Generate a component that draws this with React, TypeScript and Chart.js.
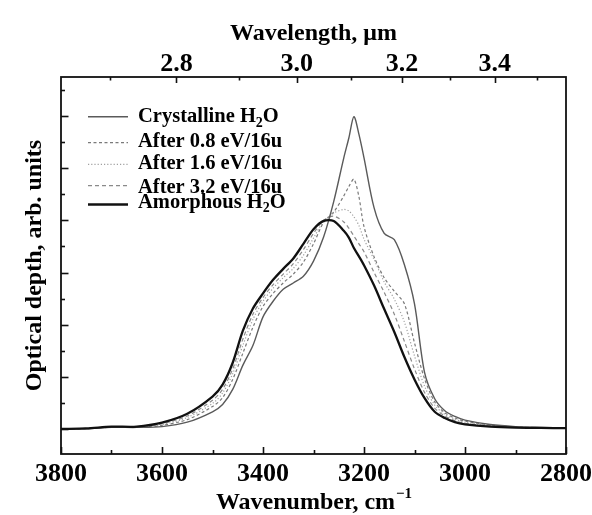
import React, { useEffect, useRef } from 'react';
import { Chart, registerables } from 'chart.js';

Chart.register(...registerables);

// ---- data (wavenumber in cm^-1, optical depth in arbitrary units) ----
const WAVENUMBERS = [
  3800, 3750, 3700, 3650, 3600, 3550, 3500, 3480, 3460, 3440, 3420, 3400,
  3380, 3360, 3340, 3320, 3300, 3280, 3260, 3240, 3230, 3220, 3210, 3200,
  3180, 3160, 3140, 3120, 3100, 3080, 3060, 3040, 3020, 3000, 2950, 2900,
  2850, 2800,
];

const CRYSTALLINE = [
  0, 0.005, 0.03, 0.03, 0.045, 0.13, 0.33, 0.47, 0.76, 1.22, 1.6, 2.15,
  2.45, 2.68, 2.8, 2.93, 3.22, 3.68, 4.36, 5.2, 5.58, 5.99, 5.65, 5.2,
  4.24, 3.75, 3.63, 3.15, 2.4, 1.08, 0.58, 0.35, 0.24, 0.17, 0.085, 0.045,
  0.03, 0.02,
];

const AFTER_08 = [
  0, 0.006, 0.032, 0.033, 0.07, 0.18, 0.43, 0.6, 0.95, 1.45, 1.95, 2.35,
  2.6, 2.8, 2.97, 3.2, 3.55, 3.96, 4.16, 4.47, 4.65, 4.79, 4.45, 3.88,
  3.3, 2.9, 2.64, 2.4, 1.65, 0.96, 0.52, 0.31, 0.21, 0.15, 0.075, 0.04,
  0.025, 0.018,
];

const AFTER_16 = [
  0, 0.008, 0.035, 0.036, 0.085, 0.22, 0.49, 0.69, 1.06, 1.6, 2.1, 2.45,
  2.7, 2.9, 3.08, 3.33, 3.66, 3.98, 4.14, 4.21, 4.18, 4.07, 3.9, 3.64,
  3.25, 2.82, 2.49, 2.05, 1.4, 0.82, 0.46, 0.28, 0.19, 0.13, 0.065, 0.035,
  0.025, 0.018,
];

const AFTER_32 = [
  0, 0.01, 0.04, 0.04, 0.1, 0.25, 0.55, 0.76, 1.15, 1.72, 2.2, 2.52,
  2.77, 2.97, 3.17, 3.44, 3.75, 4.0, 4.08, 3.97, 3.85, 3.7, 3.55, 3.4,
  3.0, 2.62, 2.2, 1.68, 1.15, 0.7, 0.4, 0.25, 0.16, 0.11, 0.055, 0.03,
  0.02, 0.015,
];

const AMORPHOUS = [
  0, 0.01, 0.045, 0.045, 0.12, 0.29, 0.62, 0.85, 1.27, 1.88, 2.31, 2.6,
  2.86, 3.07, 3.27, 3.55, 3.83, 3.99, 3.99, 3.8, 3.67, 3.47, 3.31, 3.14,
  2.75, 2.3, 1.86, 1.38, 0.95, 0.59, 0.33, 0.21, 0.13, 0.09, 0.045, 0.025,
  0.02, 0.015,
];

const LEGEND_LABELS = [
  'Crystalline H_2O',
  'After 0.8 eV/16u',
  'After 1.6 eV/16u',
  'After 3.2 eV/16u',
  'Amorphous H_2O',
];

// tick values
const BOTTOM_TICKS = [3800, 3700, 3600, 3500, 3400, 3300, 3200, 3100, 3000, 2900, 2800];
const BOTTOM_LABELED = [3800, 3600, 3400, 3200, 3000, 2800];
const TOP_WAVELENGTHS = [2.7, 2.8, 2.9, 3.0, 3.1, 3.2, 3.3, 3.4, 3.5];
const TOP_LABELS = ['', '2.8', '', '3.0', '', '3.2', '', '3.4', ''];
const Y_TICKS = [0, 0.5, 1, 1.5, 2, 2.5, 3, 3.5, 4, 4.5, 5, 5.5, 6, 6.5];

const FONT = '"Liberation Serif", "Times New Roman", serif';

// ---- styles ----
const STYLES = [
  { color: '#5a5a5a', width: 1.4, dash: [] as number[] },
  { color: '#7a7a7a', width: 1.2, dash: [3, 2.5] },
  { color: '#a0a0a0', width: 1.2, dash: [1.2, 2] },
  { color: '#8a8a8a', width: 1.2, dash: [4, 3] },
  { color: '#111111', width: 2.3, dash: [] as number[] },
];
const SERIES = [CRYSTALLINE, AFTER_08, AFTER_16, AFTER_32, AMORPHOUS];

function drawRich(ctx: CanvasRenderingContext2D, x: number, y: number, text: string, size: number) {
  const parts = text.split(/(_\d)/).filter((p) => p.length > 0);
  let cx = x;
  for (const p of parts) {
    if (p.startsWith('_')) {
      const t = p.slice(1);
      ctx.font = `bold ${Math.round(size * 0.66)}px ${FONT}`;
      ctx.fillText(t, cx, y + size * 0.24);
      cx += ctx.measureText(t).width;
    } else {
      ctx.font = `bold ${size}px ${FONT}`;
      ctx.fillText(p, cx, y);
      cx += ctx.measureText(p).width;
    }
  }
}

const decorPlugin = {
  id: 'decor',
  afterDatasetsDraw(chart: any) {
    const { ctx, chartArea } = chart;
    const { left, right, top, bottom } = chartArea;
    ctx.save();
    ctx.strokeStyle = '#111';
    ctx.lineWidth = 1.6;
    ctx.setLineDash([]);
    const xs = chart.scales.x;
    xs.ticks.forEach((t: any) => {
      const px = Math.round(xs.getPixelForValue(t.value)) + 0.5;
      const len = BOTTOM_LABELED.includes(t.value) ? 7 : 4;
      ctx.beginPath();
      ctx.moveTo(px, bottom);
      ctx.lineTo(px, bottom - len);
      ctx.stroke();
    });
    const xt = chart.scales.x2;
    xt.ticks.forEach((t: any, i: number) => {
      const px = Math.round(xt.getPixelForValue(t.value)) + 0.5;
      const len = TOP_LABELS[i] ? 6 : 3.5;
      ctx.beginPath();
      ctx.moveTo(px, top);
      ctx.lineTo(px, top + len);
      ctx.stroke();
    });
    const ys = chart.scales.y;
    ys.ticks.forEach((t: any) => {
      const py = Math.round(ys.getPixelForValue(t.value)) + 0.5;
      const len = Number.isInteger(t.value) ? 7.5 : 4;
      ctx.beginPath();
      ctx.moveTo(left, py);
      ctx.lineTo(left + len, py);
      ctx.stroke();
    });
    ctx.lineWidth = 1.8;
    ctx.strokeRect(left, top, right - left, bottom - top);
    ctx.restore();
  },
  afterDraw(chart: any) {
    const { ctx, chartArea } = chart;
    ctx.save();
    const lineY = [116.7, 142.7, 164.3, 185.7, 204.5];
    const textY = [121.7, 146.5, 169.3, 192.5, 207.5];
    LEGEND_LABELS.forEach((label, i) => {
      const st = STYLES[i];
      ctx.strokeStyle = st.color;
      ctx.lineWidth = st.width;
      ctx.setLineDash(st.dash);
      ctx.beginPath();
      ctx.moveTo(88, lineY[i]);
      ctx.lineTo(128, lineY[i]);
      ctx.stroke();
      ctx.setLineDash([]);
      ctx.fillStyle = '#000';
      ctx.textBaseline = 'alphabetic';
      ctx.textAlign = 'left';
      drawRich(ctx, 138, textY[i], label, 20.5);
    });
    const main = 'Wavenumber, cm';
    const sup = '\u22121';
    ctx.font = `bold 24px ${FONT}`;
    const w1 = ctx.measureText(main).width;
    ctx.font = `bold 15px ${FONT}`;
    const w2 = ctx.measureText(sup).width;
    const cx = (chartArea.left + chartArea.right) / 2;
    const x0 = cx - (w1 + w2) / 2;
    ctx.fillStyle = '#000';
    ctx.textAlign = 'left';
    ctx.textBaseline = 'alphabetic';
    ctx.font = `bold 24px ${FONT}`;
    ctx.fillText(main, x0, 509);
    ctx.font = `bold 15px ${FONT}`;
    ctx.fillText(sup, x0 + w1 + 1, 498);
    ctx.restore();
  },
};

export default function App() {
  const ref = useRef<HTMLCanvasElement | null>(null);

  useEffect(() => {
    if (!ref.current) return;
    const tickFont = { family: FONT, size: 26, weight: 'bold' as const, lineHeight: 1.2 };
    const titleFont = { family: FONT, size: 24, weight: 'bold' as const, lineHeight: 1.2 };
    const chart = new Chart(ref.current, {
      type: 'line',
      data: {
        datasets: SERIES.map((vals, i) => ({
          label: LEGEND_LABELS[i].replace('_2', '\u2082'),
          data: WAVENUMBERS.map((w, j) => ({ x: w, y: vals[j] })),
          borderColor: STYLES[i].color,
          borderWidth: STYLES[i].width,
          borderDash: STYLES[i].dash,
          fill: false,
          pointRadius: 0,
          tension: 0.3,
          order: i === 4 ? 0 : i === 0 ? 1 : 5 - i + 1,
        })),
      },
      options: {
        responsive: false,
        animation: false,
        layout: { padding: { left: 0, right: 26, top: 0, bottom: 0 } },
        plugins: { legend: { display: false }, tooltip: { enabled: false } },
        elements: { point: { radius: 0 } },
        scales: {
          x: {
            type: 'linear',
            position: 'bottom',
            min: 2800,
            max: 3800,
            reverse: true,
            grid: { display: false },
            border: { display: false },
            afterBuildTicks: (s: any) => {
              s.ticks = BOTTOM_TICKS.map((v) => ({ value: v }));
            },
            ticks: {
              autoSkip: false,
              maxRotation: 0,
              minRotation: 0,
              padding: -3,
              color: '#000',
              font: tickFont,
              callback: (v: any) => (BOTTOM_LABELED.includes(Number(v)) ? String(v) : ''),
            },
            afterFit: (s: any) => {
              s.height = 61;
              s.paddingLeft = 0;
              s.paddingRight = 0;
            },
          },
          x2: {
            type: 'linear',
            position: 'top',
            min: 2800,
            max: 3800,
            reverse: true,
            grid: { display: false },
            border: { display: false },
            afterBuildTicks: (s: any) => {
              s.ticks = TOP_WAVELENGTHS.map((l) => ({ value: 10000 / l }));
            },
            ticks: {
              autoSkip: false,
              maxRotation: 0,
              minRotation: 0,
              padding: -11,
              color: '#000',
              font: tickFont,
              callback: (_v: any, i: number) => TOP_LABELS[i],
            },
            title: {
              display: true,
              text: 'Wavelength, \u03bcm',
              color: '#000',
              font: titleFont,
              padding: { top: 19, bottom: 0 },
            },
            afterFit: (s: any) => {
              s.height = 77;
              s.paddingLeft = 0;
              s.paddingRight = 0;
            },
          },
          y: {
            type: 'linear',
            min: -0.48,
            max: 6.75,
            grid: { display: false },
            border: { display: false },
            afterBuildTicks: (s: any) => {
              s.ticks = Y_TICKS.map((v) => ({ value: v }));
            },
            ticks: { display: false },
            title: {
              display: true,
              text: 'Optical depth, arb. units',
              color: '#000',
              font: titleFont,
              padding: { top: 20, bottom: 0 },
            },
            afterFit: (s: any) => {
              s.width = 61;
              s.paddingTop = 0;
              s.paddingBottom = 0;
            },
          },
        },
      } as any,
      plugins: [decorPlugin],
    });
    return () => chart.destroy();
  }, []);

  return (
    <canvas
      ref={ref}
      width={592}
      height={515}
      style={{ display: 'block', position: 'fixed', left: 0, top: 0, background: '#fff' }}
    />
  );
}
